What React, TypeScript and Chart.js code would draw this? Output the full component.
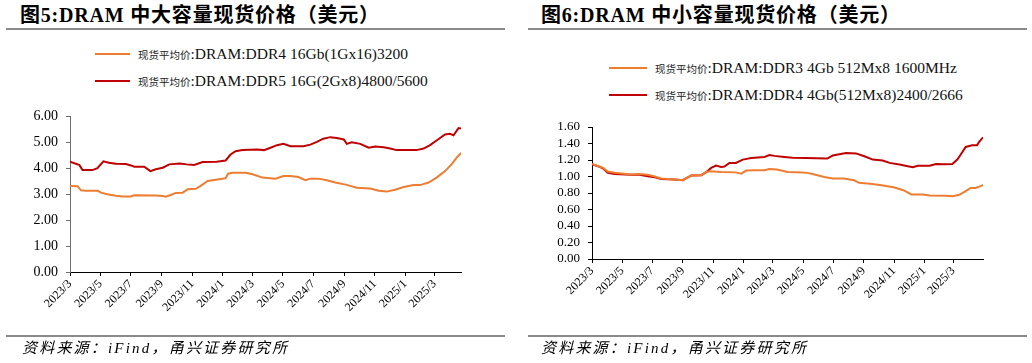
import React, { useEffect, useRef } from 'react';
import { Chart, registerables } from 'chart.js';

Chart.register(...registerables);

// ---------- data ----------
const tickLabels = ['2023/3', '2023/5', '2023/7', '2023/9', '2023/11', '2024/1', '2024/3', '2024/5', '2024/7', '2024/9', '2024/11', '2025/1', '2025/3'];

const bigDdr4Dates = ['2023-03-01', '2023-03-16', '2023-03-23', '2023-04-02', '2023-04-26', '2023-05-02', '2023-05-15', '2023-06-01', '2023-06-14', '2023-07-01', '2023-07-08', '2023-08-20', '2023-09-03', '2023-09-09', '2023-09-19', '2023-09-29', '2023-10-13', '2023-10-23', '2023-11-08', '2023-11-18', '2023-12-02', '2023-12-15', '2024-01-01', '2024-01-07', '2024-01-12', '2024-01-21', '2024-02-16', '2024-03-01', '2024-03-21', '2024-04-16', '2024-05-02', '2024-05-16', '2024-06-01', '2024-06-15', '2024-06-25', '2024-07-11', '2024-07-28', '2024-08-14', '2024-09-06', '2024-09-26', '2024-10-23', '2024-11-09', '2024-11-25', '2024-12-12', '2024-12-29', '2025-01-18', '2025-01-31', '2025-02-17', '2025-03-05', '2025-03-22', '2025-04-04', '2025-04-14', '2025-04-23'];
const bigDdr4Values = [3.32, 3.31, 3.15, 3.13, 3.13, 3.06, 3.0, 2.94, 2.91, 2.91, 2.96, 2.95, 2.93, 2.9, 2.97, 3.05, 3.06, 3.19, 3.21, 3.32, 3.51, 3.55, 3.6, 3.62, 3.79, 3.83, 3.83, 3.77, 3.64, 3.6, 3.7, 3.7, 3.66, 3.54, 3.6, 3.6, 3.54, 3.45, 3.36, 3.25, 3.22, 3.13, 3.1, 3.17, 3.28, 3.35, 3.35, 3.45, 3.64, 3.89, 4.15, 4.4, 4.59];

const bigDdr5Dates = ['2023-03-01', '2023-03-20', '2023-03-26', '2023-04-15', '2023-04-25', '2023-05-07', '2023-05-18', '2023-06-01', '2023-06-21', '2023-07-01', '2023-07-08', '2023-07-28', '2023-08-09', '2023-08-20', '2023-09-03', '2023-09-16', '2023-10-07', '2023-10-21', '2023-11-05', '2023-11-22', '2023-12-20', '2024-01-07', '2024-01-17', '2024-01-27', '2024-02-10', '2024-03-10', '2024-03-24', '2024-04-06', '2024-04-19', '2024-05-02', '2024-05-16', '2024-06-11', '2024-06-25', '2024-07-08', '2024-07-21', '2024-08-04', '2024-08-17', '2024-08-31', '2024-09-06', '2024-09-16', '2024-10-03', '2024-10-20', '2024-11-02', '2024-11-19', '2024-12-02', '2024-12-15', '2025-01-24', '2025-02-07', '2025-02-20', '2025-03-05', '2025-03-22', '2025-04-01', '2025-04-08', '2025-04-18', '2025-04-23'];
const bigDdr5Values = [4.25, 4.12, 3.93, 3.93, 4.0, 4.27, 4.21, 4.17, 4.16, 4.11, 4.06, 4.06, 3.89, 3.96, 4.02, 4.15, 4.18, 4.15, 4.13, 4.24, 4.25, 4.3, 4.53, 4.66, 4.7, 4.72, 4.7, 4.79, 4.89, 4.94, 4.85, 4.85, 4.91, 5.02, 5.14, 5.2, 5.17, 5.11, 4.94, 5.0, 4.94, 4.79, 4.84, 4.81, 4.76, 4.7, 4.7, 4.76, 4.89, 5.07, 5.3, 5.33, 5.27, 5.55, 5.53];

const smallDdr3Dates = ['2023-03-01', '2023-03-13', '2023-03-23', '2023-04-02', '2023-04-16', '2023-05-19', '2023-06-05', '2023-06-22', '2023-07-06', '2023-07-19', '2023-08-15', '2023-09-01', '2023-09-08', '2023-09-18', '2023-10-08', '2023-10-18', '2023-10-25', '2023-11-17', '2023-12-17', '2023-12-28', '2024-01-07', '2024-01-24', '2024-02-13', '2024-02-23', '2024-03-09', '2024-03-31', '2024-04-20', '2024-05-10', '2024-05-24', '2024-06-13', '2024-06-30', '2024-07-23', '2024-08-12', '2024-08-22', '2024-09-14', '2024-10-07', '2024-10-31', '2024-11-20', '2024-12-06', '2024-12-30', '2025-01-12', '2025-02-14', '2025-02-27', '2025-03-12', '2025-03-26', '2025-04-05', '2025-04-15', '2025-04-25', '2025-04-30'];
const smallDdr3Values = [1.152, 1.128, 1.106, 1.06, 1.045, 1.025, 1.03, 1.02, 1.0, 0.975, 0.965, 0.955, 0.98, 1.012, 1.016, 1.052, 1.064, 1.056, 1.05, 1.035, 1.072, 1.076, 1.076, 1.09, 1.085, 1.056, 1.052, 1.044, 1.024, 0.995, 0.976, 0.976, 0.955, 0.923, 0.911, 0.895, 0.87, 0.834, 0.782, 0.782, 0.77, 0.768, 0.762, 0.775, 0.822, 0.862, 0.862, 0.883, 0.897];

const smallDdr4Dates = ['2023-03-01', '2023-03-13', '2023-03-23', '2023-04-02', '2023-04-16', '2023-05-19', '2023-06-05', '2023-06-22', '2023-07-06', '2023-07-19', '2023-08-15', '2023-09-01', '2023-09-08', '2023-09-18', '2023-10-08', '2023-10-18', '2023-10-28', '2023-11-07', '2023-11-17', '2023-11-24', '2023-12-04', '2023-12-17', '2023-12-31', '2024-01-17', '2024-02-13', '2024-02-23', '2024-03-04', '2024-03-24', '2024-04-10', '2024-05-06', '2024-06-19', '2024-06-30', '2024-07-27', '2024-08-16', '2024-09-02', '2024-09-19', '2024-10-09', '2024-10-23', '2024-11-12', '2024-11-29', '2024-12-09', '2024-12-19', '2025-01-12', '2025-01-25', '2025-02-11', '2025-02-27', '2025-03-09', '2025-03-16', '2025-03-26', '2025-04-08', '2025-04-18', '2025-04-22', '2025-04-30'];
const smallDdr4Values = [1.15, 1.125, 1.1, 1.044, 1.031, 1.02, 1.02, 1.004, 0.99, 0.971, 0.963, 0.955, 0.98, 1.012, 1.016, 1.052, 1.104, 1.133, 1.116, 1.12, 1.164, 1.164, 1.205, 1.225, 1.237, 1.261, 1.25, 1.237, 1.228, 1.225, 1.218, 1.254, 1.285, 1.28, 1.245, 1.205, 1.193, 1.165, 1.145, 1.125, 1.112, 1.13, 1.13, 1.152, 1.15, 1.152, 1.205, 1.266, 1.358, 1.378, 1.38, 1.418, 1.475];

const ORANGE = '#ED7D31';
const RED = '#C00000';
const SERIF = '"Liberation Serif", "Times New Roman", "Noto Sans CJK SC", serif';

const BASE = Date.UTC(2023, 2, 1);
function dayOf(s: string): number {
  const parts = s.split(/[-/]/).map(Number);
  return (Date.UTC(parts[0], parts[1] - 1, parts[2] || 1) - BASE) / 86400000;
}

type Series = { label: string; dates: string[]; values: number[]; color: string };
type Geo = { yWidth: number; xHeight: number; top: number; right: number };

function PriceChart(props: {
  series: Series[];
  yMax: number;
  yStep: number;
  geo: Geo;
  yAxisColor: string;
  yFont: number;
  left: number;
  top: number;
}) {
  const ref = useRef<HTMLCanvasElement>(null);
  useEffect(() => {
    const { series, yMax, yStep, geo, yAxisColor, yFont } = props;
    const xMax = Math.max(...series.map((s) => dayOf(s.dates[s.dates.length - 1])));
    const tickDays = tickLabels.map(dayOf);
    const chart = new Chart(ref.current as HTMLCanvasElement, {
      type: 'line',
      data: {
        datasets: series.map((s) => ({
          label: s.label,
          data: s.dates.map((d, i) => ({ x: dayOf(d), y: s.values[i] })),
          borderColor: s.color,
          backgroundColor: s.color,
          borderWidth: 2,
          pointRadius: 0,
          tension: 0,
        })),
      },
      options: {
        responsive: false,
        maintainAspectRatio: false,
        animation: false,
        layout: { padding: { left: 0, right: geo.right, top: geo.top, bottom: 0 } },
        plugins: { legend: { display: false }, tooltip: { enabled: false } },
        scales: {
          x: {
            type: 'linear',
            min: 0,
            max: xMax,
            afterBuildTicks: (s: any) => {
              s.ticks = tickDays.map((v) => ({ value: v }));
            },
            afterFit: (s: any) => {
              s.height = geo.xHeight;
            },
            ticks: {
              autoSkip: false,
              minRotation: 45,
              maxRotation: 45,
              padding: 1,
              color: '#000',
              font: { family: SERIF, size: 12 },
              callback: (_v: any, i: number) => tickLabels[i],
            },
            grid: { display: true, drawOnChartArea: false, drawTicks: true, tickLength: 4, color: '#000' },
            border: { display: true, color: '#000' },
          },
          y: {
            min: 0,
            max: yMax,
            afterFit: (s: any) => {
              s.width = geo.yWidth;
            },
            ticks: {
              autoSkip: false,
              stepSize: yStep,
              padding: 8,
              color: '#000',
              font: { family: SERIF, size: yFont },
              callback: (v: any) => Number(v).toFixed(2),
            },
            grid: { display: true, drawOnChartArea: false, drawTicks: true, tickLength: 4, color: yAxisColor },
            border: { display: true, color: yAxisColor },
          },
        },
      },
    } as any);
    return () => chart.destroy();
  }, []);
  return (
    <canvas
      ref={ref}
      width={516}
      height={236}
      style={{ position: 'absolute', left: props.left, top: props.top, width: 516, height: 236 }}
    />
  );
}

function LegendRow(props: { left: number; top: number; swatchW: number; gap: number; color: string; cn: string; en: string }) {
  return (
    <div style={{ position: 'absolute', left: props.left, top: props.top - 10, height: 20, display: 'flex', alignItems: 'center', whiteSpace: 'nowrap' }}>
      <div style={{ width: props.swatchW, height: 2, background: props.color, marginRight: props.gap }} />
      <span style={{ fontFamily: '"Noto Sans CJK SC", sans-serif', fontSize: 10.5, color: '#222' }}>{props.cn}</span>
      <span style={{ fontFamily: SERIF, fontSize: 15.5, color: '#111' }}>{props.en}</span>
    </div>
  );
}

function Panel(props: {
  title: string;
  titleLeft: number;
  ruleLeft: number;
  legendTop1: number;
  legendTop2: number;
  legendLeft: number;
  swatchW: number;
  names: string[];
  colors: string[];
  sourceLeft: number;
  children: any;
}) {
  return (
    <>
      <div
        style={{
          position: 'absolute',
          left: props.titleLeft,
          top: 5,
          font: `bold 20px ${SERIF}`,
          lineHeight: '20px',
          letterSpacing: '0.8px',
          whiteSpace: 'nowrap',
          color: '#000',
        }}
      >
        {props.title}
      </div>
      <div style={{ position: 'absolute', left: props.ruleLeft, top: 28, width: 499, height: 2, background: '#8a8a8a' }} />
      <LegendRow left={props.legendLeft} top={props.legendTop1} swatchW={props.swatchW} gap={8} color={props.colors[0]} cn="现货平均价" en={props.names[0]} />
      <LegendRow left={props.legendLeft} top={props.legendTop2} swatchW={props.swatchW} gap={8} color={props.colors[1]} cn="现货平均价" en={props.names[1]} />
      {props.children}
      <div style={{ position: 'absolute', left: props.ruleLeft, top: 335, width: 499, height: 2, background: '#8a8a8a' }} />
      <div
        style={{
          position: 'absolute',
          left: props.sourceLeft,
          top: 339,
          font: `italic 15px ${SERIF}`,
          lineHeight: '18px',
          letterSpacing: '2.2px',
          whiteSpace: 'nowrap',
          color: '#000',
        }}
      >
        资料来源：iFind，甬兴证券研究所
      </div>
    </>
  );
}

export default function App() {
  return (
    <div style={{ position: 'absolute', left: 0, top: 0, width: 1032, height: 363, background: '#fff', overflow: 'hidden' }}>
      <Panel
        title="图5:DRAM 中大容量现货价格（美元）"
        titleLeft={20}
        ruleLeft={6}
        legendTop1={54}
        legendTop2={81}
        legendLeft={95}
        swatchW={35}
        names={[':DRAM:DDR4 16Gb(1Gx16)3200', ':DRAM:DDR5 16G(2Gx8)4800/5600']}
        colors={[ORANGE, RED]}
        sourceLeft={22}
      >
        <PriceChart
          left={0}
          top={100}
          yMax={6}
          yStep={1}
          yFont={14}
          yAxisColor="#6e6e6e"
          geo={{ yWidth: 70, xHeight: 64, top: 15, right: 55 }}
          series={[
            { label: '现货平均价:DRAM:DDR4 16Gb(1Gx16)3200', dates: bigDdr4Dates, values: bigDdr4Values, color: ORANGE },
            { label: '现货平均价:DRAM:DDR5 16G(2Gx8)4800/5600', dates: bigDdr5Dates, values: bigDdr5Values, color: RED },
          ]}
        />
      </Panel>
      <Panel
        title="图6:DRAM 中小容量现货价格（美元）"
        titleLeft={541}
        ruleLeft={528}
        legendTop1={68}
        legendTop2={95}
        legendLeft={609}
        swatchW={38}
        names={[':DRAM:DDR3 4Gb 512Mx8 1600MHz', ':DRAM:DDR4 4Gb(512Mx8)2400/2666']}
        colors={[ORANGE, RED]}
        sourceLeft={541}
      >
        <PriceChart
          left={516}
          top={100}
          yMax={1.6}
          yStep={0.2}
          yFont={13}
          yAxisColor="#000"
          geo={{ yWidth: 76, xHeight: 77, top: 27, right: 49 }}
          series={[
            { label: '现货平均价:DRAM:DDR3 4Gb 512Mx8 1600MHz', dates: smallDdr3Dates, values: smallDdr3Values, color: ORANGE },
            { label: '现货平均价:DRAM:DDR4 4Gb(512Mx8)2400/2666', dates: smallDdr4Dates, values: smallDdr4Values, color: RED },
          ]}
        />
      </Panel>
    </div>
  );
}
